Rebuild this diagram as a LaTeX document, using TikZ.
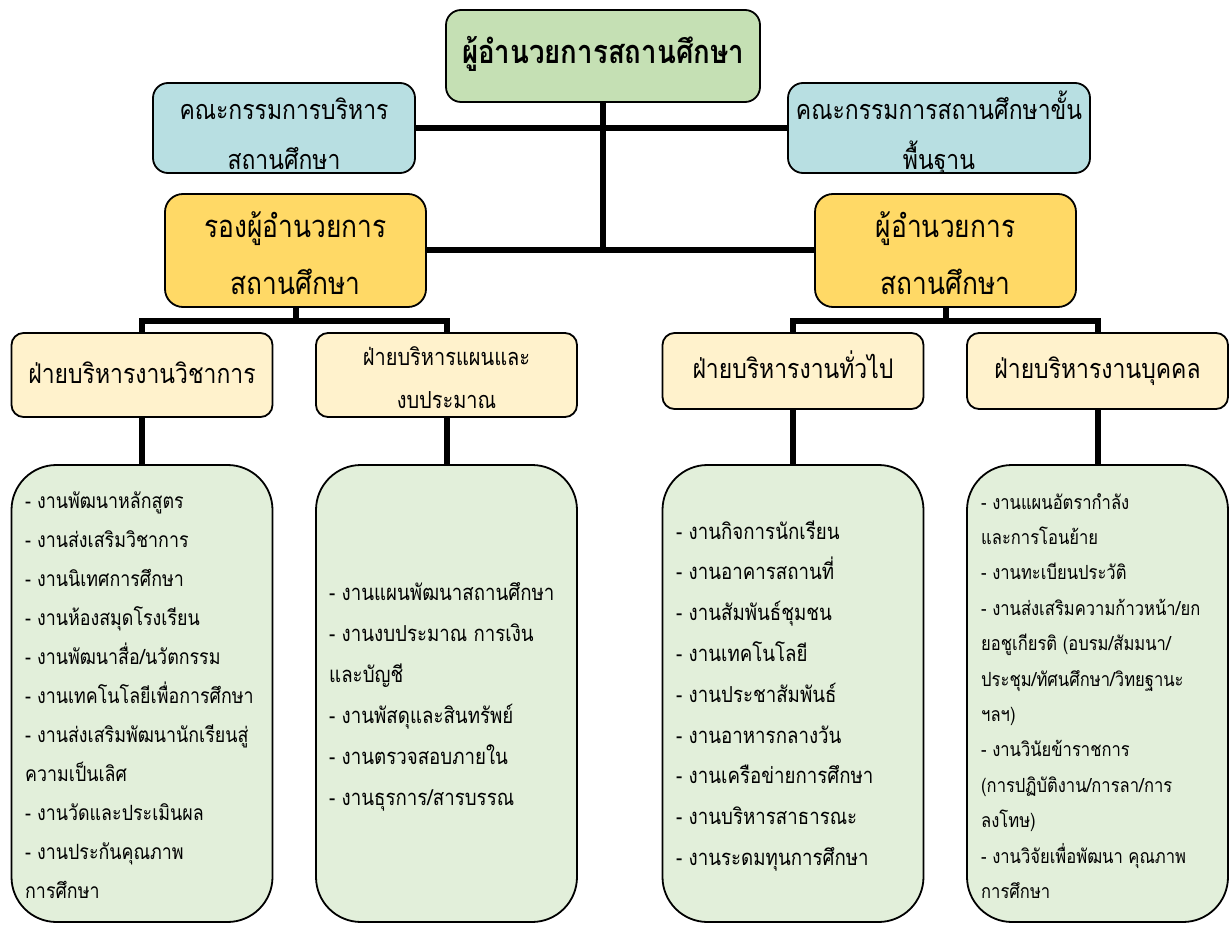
\documentclass[tikz,border=0pt]{standalone}
\usepackage{fontspec}
\newfontfamily\thai[Script=Thai,FakeStretch=0.85]{Loma}
\definecolor{cTop}{HTML}{C5E0B4}
\definecolor{cBlue}{HTML}{B8DFE2}
\definecolor{cYel}{HTML}{FFD966}
\definecolor{cDep}{HTML}{FFF2CC}
\definecolor{cList}{HTML}{E2EFDA}
\begin{document}
\begin{tikzpicture}[x=1pt,y=-1pt,
  box/.style={draw=black,line width=1.8pt,inner sep=0pt},
  topbox/.style={box,fill=cTop,rounded corners=15pt,minimum width=314pt,minimum height=92pt},
  bluebox/.style={box,fill=cBlue,rounded corners=15pt,minimum height=90pt},
  yelbox/.style={box,fill=cYel,rounded corners=18pt,minimum width=261pt,minimum height=113pt},
  depbox/.style={box,fill=cDep,rounded corners=12pt,minimum width=261pt},
  listbox/.style={box,fill=cList,rounded corners=45pt,minimum width=261pt,minimum height=457pt},
  conn/.style={draw=black,line width=6pt},
  tx/.style={inner sep=0pt,anchor=base},
  ttop/.style={tx,font=\thai\bfseries\fontsize{32.5}{36}\selectfont},
  tblue/.style={tx,font=\thai\fontsize{27}{30}\selectfont},
  tyel/.style={tx,font=\thai\fontsize{31}{34}\selectfont},
  tdep/.style={tx,font=\thai\fontsize{27}{30}\selectfont},
  tdepsm/.style={tx,font=\thai\fontsize{23.5}{26}\selectfont},
  item/.style={inner sep=0pt,anchor=base west,font=\thai\fontsize{21}{24}\selectfont},
  itemb/.style={item,font=\thai\fontsize{22}{25}\selectfont},
  itemsm/.style={item,font=\thai\fontsize{19.5}{22}\selectfont}]
\useasboundingbox (0,0) rectangle (1232,925);

% boxes
\node[topbox] (top) at (603,56) {};
\node[bluebox,minimum width=262pt] (boardL) at (284,128) {};
\node[bluebox,minimum width=302pt] (boardR) at (939,128) {};
\node[yelbox] (vdL) at (295.5,250.5) {};
\node[yelbox] (vdR) at (945.5,250.5) {};
\node[depbox,minimum height=84pt] (dep1) at (142,375) {};
\node[depbox,minimum height=84pt] (dep2) at (446.5,375) {};
\node[depbox,minimum height=76pt] (dep3) at (793,371) {};
\node[depbox,minimum height=76pt] (dep4) at (1097.5,371) {};
\node[listbox] (list1) at (142,693.5) {};
\node[listbox] (list2) at (446.5,693.5) {};
\node[listbox] (list3) at (793,693.5) {};
\node[listbox] (list4) at (1097.5,693.5) {};

% connectors
\coordinate (jL) at (295.5,321);
\coordinate (jR) at (945.5,321);
\draw[conn] (top.south) -- (top.south |- vdL.east);
\draw[conn] (boardL.east) -- (boardR.west);
\draw[conn] (vdL.east) -- (vdR.west);
\draw[conn] (vdL.south) -- (jL);
\draw[conn] (vdR.south) -- (jR);
\draw[conn] (dep1.north) |- (jL) -| (dep2.north);
\draw[conn] (dep3.north) |- (jR) -| (dep4.north);
\draw[conn] (dep1.south) -- (list1.north);
\draw[conn] (dep2.south) -- (list2.north);
\draw[conn] (dep3.south) -- (list3.north);
\draw[conn] (dep4.south) -- (list4.north);

% texts
\node[ttop] (topT) at (603,64) {ผู้อำนวยการสถานศึกษา};
\begin{scope}
\clip[rounded corners=15pt] (153,83) rectangle (415,173);
\node[tblue] (boardLa) at (284,120) {คณะกรรมการบริหาร};
\node[tblue] (boardLb) at (284,170) {สถานศึกษา};
\end{scope}
\begin{scope}
\clip[rounded corners=15pt] (788,83) rectangle (1090,173);
\node[tblue] (boardRa) at (939,120) {คณะกรรมการสถานศึกษาขั้น};
\node[tblue] (boardRb) at (939,170) {พื้นฐาน};
\end{scope}
\node[tyel] (vdLa) at (295.5,238) {รองผู้อำนวยการ};
\node[tyel] (vdLb) at (295.5,295) {สถานศึกษา};
\node[tyel] (vdRa) at (945.5,238) {ผู้อำนวยการ};
\node[tyel] (vdRb) at (945.5,295) {สถานศึกษา};
\node[tdep] (dep1T) at (142,384) {ฝ่ายบริหารงานวิชาการ};
\node[tdepsm] (dep2a) at (446.5,366) {ฝ่ายบริหารแผนและ};
\node[tdepsm] (dep2b) at (446.5,408) {งบประมาณ};
\node[tdep] (dep3T) at (793,378) {ฝ่ายบริหารงานทั่วไป};
\node[tdep] (dep4T) at (1097.5,378) {ฝ่ายบริหารงานบุคคล};

\foreach \t [count=\i from 0] in {{- งานพัฒนาหลักสูตร},{- งานส่งเสริมวิชาการ},{- งานนิเทศการศึกษา},{- งานห้องสมุดโรงเรียน},{- งานพัฒนาสื่อ/นวัตกรรม},{- งานเทคโนโลยีเพื่อการศึกษา},{- งานส่งเสริมพัฒนานักเรียนสู่},{ความเป็นเลิศ},{- งานวัดและประเมินผล},{- งานประกันคุณภาพ},{การศึกษา}}
  \node[item] (a\i) at (25,{508+39*\i}) {\t};
\foreach \t [count=\i from 0] in {{- งานแผนพัฒนาสถานศึกษา},{- งานงบประมาณ การเงิน},{และบัญชี},{- งานพัสดุและสินทรัพย์},{- งานตรวจสอบภายใน},{- งานธุรการ/สารบรรณ}}
  \node[itemb] (b\i) at (329,{600+41*\i}) {\t};
\foreach \t [count=\i from 0] in {{- งานกิจการนักเรียน},{- งานอาคารสถานที่},{- งานสัมพันธ์ชุมชน},{- งานเทคโนโลยี},{- งานประชาสัมพันธ์},{- งานอาหารกลางวัน},{- งานเครือข่ายการศึกษา},{- งานบริหารสาธารณะ},{- งานระดมทุนการศึกษา}}
  \node[itemb] (c\i) at (676,{539+40.8*\i}) {\t};
\foreach \t [count=\i from 0] in {{- งานแผนอัตรากำลัง},{และการโอนย้าย},{- งานทะเบียนประวัติ},{- งานส่งเสริมความก้าวหน้า/ยก},{ยอชูเกียรติ (อบรม/สัมมนา/},{ประชุม/ทัศนศึกษา/วิทยฐานะ},{ฯลฯ)},{- งานวินัยข้าราชการ},{(การปฏิบัติงาน/การลา/การ},{ลงโทษ)},{- งานวิจัยเพื่อพัฒนา คุณภาพ},{การศึกษา}}
  \node[itemsm] (d\i) at (981,{509+35.4*\i}) {\t};
\end{tikzpicture}
\end{document}
